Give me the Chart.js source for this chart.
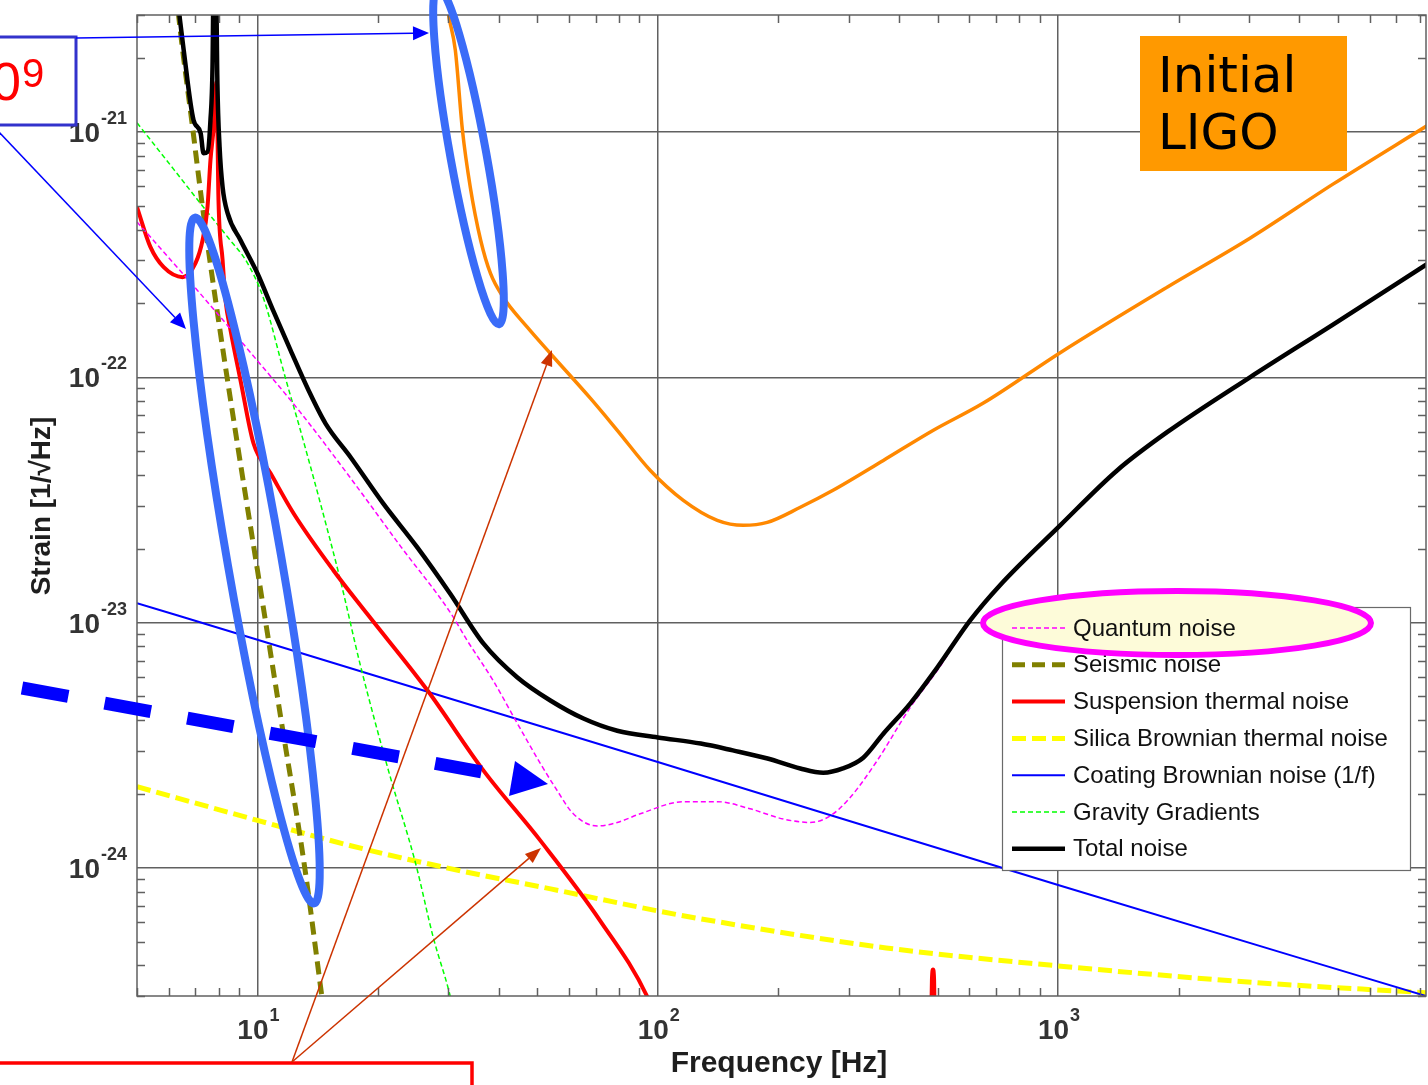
<!DOCTYPE html>
<html>
<head>
<meta charset="utf-8">
<script src="https://cdn.jsdelivr.net/npm/chart.js@4.4.1/dist/chart.umd.min.js"></script>
<style>
  html, body { margin: 0; padding: 0; background: #fff; }
  #c { display: block; }
</style>
</head>
<body>
<canvas id="c" width="1428" height="1085"></canvas>
<script>
// frequency [Hz] / strain [1/sqrt(Hz)]
const quantumF = [5.0, 7.08, 9.61, 12.8, 17.1, 22.8, 30.3, 33.4, 38.8, 44.6, 50.9, 56.1, 61.5, 70.6, 79.2, 90.4, 116, 141, 170, 206, 240, 270, 302, 353, 427, 499, 603, 716, 1012, 1404, 1872, 3015, 4861, 8343]
const quantumH = [4.30e-22, 2.26e-22, 1.26e-22, 7.19e-23, 3.87e-23, 2.04e-23, 1.10e-23, 8.45e-24, 5.79e-24, 3.87e-24, 2.66e-24, 2.06e-24, 1.66e-24, 1.48e-24, 1.53e-24, 1.66e-24, 1.86e-24, 1.86e-24, 1.74e-24, 1.58e-24, 1.53e-24, 1.63e-24, 1.93e-24, 2.73e-24, 4.50e-24, 6.37e-24, 1.02e-23, 1.42e-23, 2.49e-23, 4.17e-23, 5.97e-23, 1.0e-22, 1.64e-22, 2.89e-22]

const seismicF = [6.2, 6.35, 6.88, 7.29, 7.99, 8.92, 10.0, 11.41, 13.10, 14.45, 14.87]
const seismicH = [4.5e-21, 3.0e-21, 1.05e-21, 4.94e-22, 1.71e-22, 5.27e-23, 1.63e-23, 4.17e-24, 1.02e-24, 3.06e-25, 2.16e-25]

const suspF = [5.0, 5.40, 5.83, 6.50, 7.00, 7.29, 7.50, 7.63, 7.77, 7.90, 7.99, 8.18, 8.32, 8.56, 9.07, 9.77, 10.78, 12.30, 15.48, 18.83, 26.6, 36.7, 50.9, 71.8, 94.2, 101, 150, 478, 484, 487, 490, 496]
const suspH = [4.94e-22, 3.40e-22, 2.81e-22, 2.56e-22, 2.92e-22, 3.62e-22, 4.94e-22, 7.69e-22, 1.04e-21, 1.6e-21, 5.27e-22, 3.01e-22, 2.06e-22, 1.56e-22, 9.7e-23, 5.38e-23, 4.06e-23, 2.79e-23, 1.63e-23, 1.08e-23, 5.28e-24, 2.49e-24, 1.29e-24, 6.08e-25, 2.97e-25, 2.2e-25, null, 1e-25, 3.5e-25, 3.85e-25, 3.5e-25, 1e-25]

const silicaF = [5, 10, 17.1, 29.6, 54, 100, 128, 372, 1000, 3140, 8390]
const silicaH = [2.14e-24, 1.56e-24, 1.23e-24, 1.0e-24, 8.2e-25, 6.67e-25, 6.19e-25, 4.71e-25, 3.98e-25, 3.40e-25, 3.09e-25]

const coatingF = [5, 10, 100, 1000, 8300]
const coatingH = [1.2e-23, 8.5e-24, 2.7e-24, 8.5e-25, 3.0e-25]

const gravityF = [5.0, 6.17, 7.29, 8.42, 9.44, 10.35, 11.75, 12.8, 14.4, 16.12, 18.08, 21.24, 24.8, 27.5, 30.2, 31.2]
const gravityH = [1.09e-21, 7.06e-22, 4.99e-22, 3.73e-22, 2.92e-22, 2.10e-22, 9.9e-23, 6.08e-23, 3.01e-23, 1.48e-23, 6.67e-24, 2.49e-24, 1.05e-24, 5.18e-25, 3.06e-25, 2.4e-25]

const totalF = [6.35, 6.54, 6.92, 7.21, 7.33, 7.50, 7.63, 7.72, 7.82, 7.94, 8.04, 8.18, 8.42, 9.07, 10.0, 10.96, 12.09, 13.41, 14.78, 17.1, 20.6, 25.1, 30.3, 36.7, 44.6, 53.9, 65.2, 79.2, 100, 128, 154, 188, 227, 259, 290, 326, 366, 427, 499, 603, 716, 1012, 1404, 1872, 3015, 4861, 8343]
const totalH = [3.2e-21, 2.16e-21, 1.12e-21, 9.9e-22, 8.2e-22, 8.3e-22, 1.12e-21, 1.84e-21, 1.2e-20, 1.58e-21, 8.7e-22, 5.97e-22, 4.67e-22, 3.62e-22, 2.65e-22, 1.86e-22, 1.29e-22, 8.85e-23, 6.49e-23, 4.71e-23, 3.06e-23, 2.02e-23, 1.31e-23, 8.2e-24, 5.97e-24, 4.81e-24, 4.06e-24, 3.62e-24, 3.40e-24, 3.21e-24, 3.01e-24, 2.79e-24, 2.54e-24, 2.44e-24, 2.54e-24, 2.81e-24, 3.52e-24, 4.67e-24, 6.55e-24, 1.02e-23, 1.42e-23, 2.49e-23, 4.17e-23, 5.97e-23, 1.0e-22, 1.64e-22, 2.89e-22]

// initial LIGO sensitivity (orange)
const ligoF = [29.5, 30.0, 31.2, 32.5, 34.0, 36.1, 38.2, 41.1, 47.2, 53.9, 67.9, 79.2, 95.8, 115.8, 140.8, 163.5, 187.7, 227, 274, 366, 488, 649, 1012, 1872, 3015, 4861, 8343]
const ligoH = [3.6e-21, 3.0e-21, 2.16e-21, 1.02e-21, 5.97e-22, 3.62e-22, 2.65e-22, 2.12e-22, 1.60e-22, 1.25e-22, 8.2e-23, 6.08e-23, 4.17e-23, 3.15e-23, 2.61e-23, 2.49e-23, 2.56e-23, 2.95e-23, 3.46e-23, 4.58e-23, 6.08e-23, 7.83e-23, 1.26e-22, 2.33e-22, 3.69e-22, 6.13e-22, 1.06e-21]

const xTickExps = [1, 2, 3]
const yTickExps = [-24, -23, -22, -21]
const legendLabels = ['Quantum noise', 'Seismic noise', 'Suspension thermal noise', 'Silica Brownian thermal noise', 'Coating Brownian noise (1/f)', 'Gravity Gradients', 'Total noise']

const pts = (F, H) => F.map((f, i) => ({ x: f, y: H[i] }))
const line = (label, F, H, color, width, dash, order) => ({
    label: label, data: pts(F, H), borderColor: color, borderWidth: width,
    borderDash: dash, order: order, pointRadius: 0, cubicInterpolationMode: 'monotone',
    fill: false, spanGaps: false
})

const datasets = [
    line('Total noise', totalF, totalH, '#000000', 4.5, [], 0),
    line('Initial LIGO', ligoF, ligoH, '#ff8800', 3.5, [], 1),
    line('Quantum noise', quantumF, quantumH, '#ff00ff', 1.5, [5, 3], 2),
    line('Suspension thermal noise', suspF, suspH, '#ff0000', 4, [], 3),
    line('Seismic noise', seismicF, seismicH, '#808000', 5, [13, 7], 4),
    line('Gravity Gradients', gravityF, gravityH, '#00ff00', 1.5, [5, 3], 5),
    line('Coating Brownian noise (1/f)', coatingF, coatingH, '#0000ff', 2, [], 6),
    line('Silica Brownian thermal noise', silicaF, silicaH, '#ffff00', 5, [14, 6], 7)
]

const GRID = '#606060'
const FONT = '"Liberation Sans", Arial, sans-serif'

function arrow(ctx, x1, y1, x2, y2, color, w, hl, hw) {
    const a = Math.atan2(y2 - y1, x2 - x1)
    ctx.strokeStyle = color
    ctx.fillStyle = color
    ctx.lineWidth = w
    ctx.setLineDash([])
    ctx.beginPath()
    ctx.moveTo(x1, y1)
    ctx.lineTo(x2 - hl * Math.cos(a), y2 - hl * Math.sin(a))
    ctx.stroke()
    ctx.beginPath()
    ctx.moveTo(x2, y2)
    ctx.lineTo(x2 - hl * Math.cos(a) + hw * Math.sin(a), y2 - hl * Math.sin(a) - hw * Math.cos(a))
    ctx.lineTo(x2 - hl * Math.cos(a) - hw * Math.sin(a), y2 - hl * Math.sin(a) + hw * Math.cos(a))
    ctx.closePath()
    ctx.fill()
}

const decor = {
    id: 'decor',
    beforeDraw(chart) {
        const ctx = chart.ctx
        ctx.save()
        ctx.fillStyle = '#fff'
        ctx.fillRect(0, 0, chart.width, chart.height)
        ctx.restore()
    },
    afterDatasetsDraw(chart) {
        const ctx = chart.ctx
        const a = chart.chartArea
        const xs = chart.scales.x, ys = chart.scales.y
        ctx.save()
        ctx.strokeStyle = GRID
        ctx.lineWidth = 1.5
        ctx.setLineDash([])
        // minor ticks inward on all four sides
        for (let e = 0; e <= 3; e++) {
            for (let m = 2; m <= 9; m++) {
                const v = m * Math.pow(10, e)
                if (v < xs.min || v > xs.max) continue
                const px = Math.round(xs.getPixelForValue(v)) + 0.5
                ctx.beginPath()
                ctx.moveTo(px, a.bottom); ctx.lineTo(px, a.bottom - 8)
                ctx.moveTo(px, a.top); ctx.lineTo(px, a.top + 8)
                ctx.stroke()
            }
        }
        for (let e = -25; e <= -21; e++) {
            for (let m = 2; m <= 9; m++) {
                const v = m * Math.pow(10, e)
                if (v < ys.min || v > ys.max) continue
                const py = Math.round(ys.getPixelForValue(v)) + 0.5
                ctx.beginPath()
                ctx.moveTo(a.left, py); ctx.lineTo(a.left + 8, py)
                ctx.moveTo(a.right, py); ctx.lineTo(a.right - 8, py)
                ctx.stroke()
            }
        }
        ctx.strokeRect(a.left, a.top, a.right - a.left, a.bottom - a.top)
        ctx.restore()
    },
    afterDraw(chart) {
        const ctx = chart.ctx
        const xs = chart.scales.x, ys = chart.scales.y
        ctx.save()
        ctx.fillStyle = '#333'
        ctx.textBaseline = 'alphabetic'
        // tick labels 10^n
        xTickExps.forEach(e => {
            const px = xs.getPixelForValue(Math.pow(10, e))
            ctx.font = 'bold 28px ' + FONT
            ctx.textAlign = 'right'
            ctx.fillText('10', px + 11, 1039)
            ctx.font = 'bold 18px ' + FONT
            ctx.textAlign = 'left'
            ctx.fillText(String(e), px + 12, 1021)
        })
        yTickExps.forEach(e => {
            const py = ys.getPixelForValue(Math.pow(10, e))
            ctx.font = 'bold 28px ' + FONT
            ctx.textAlign = 'right'
            ctx.fillText('10', 100, py + 10)
            ctx.font = 'bold 18px ' + FONT
            ctx.textAlign = 'left'
            ctx.fillText(String(e), 101, py - 8)
        })
        // axis titles
        ctx.fillStyle = '#1e1e1e'
        ctx.font = 'bold 30px ' + FONT
        ctx.textAlign = 'center'
        ctx.fillText('Frequency [Hz]', 779, 1072)
        ctx.save()
        ctx.translate(50, 506)
        ctx.rotate(-Math.PI / 2)
        ctx.font = 'bold 28px ' + FONT
        ctx.fillText('Strain [1/\u221AHz]', 0, 0)
        ctx.restore()

        // legend box
        ctx.fillStyle = '#fff'
        ctx.fillRect(1002, 607, 408, 263)
        ctx.strokeStyle = '#6a6a6a'
        ctx.lineWidth = 1.2
        ctx.strokeRect(1002.5, 607.5, 408, 263)
        // highlight behind first entry
        ctx.fillStyle = '#fdfbd9'
        ctx.beginPath()
        ctx.ellipse(1177, 623, 194, 32, 0, 0, Math.PI * 2)
        ctx.fill()
        legendLabels.forEach((lab, i) => {
            const ds = chart.data.datasets.find(d => d.label === lab)
            const y = 628 + i * 36.8
            ctx.strokeStyle = ds.borderColor
            ctx.lineWidth = Math.max(ds.borderWidth, 1.5)
            ctx.setLineDash(ds.borderDash)
            ctx.beginPath()
            ctx.moveTo(1012, y); ctx.lineTo(1065, y)
            ctx.stroke()
            ctx.setLineDash([])
            ctx.fillStyle = '#111'
            ctx.font = '24px ' + FONT
            ctx.textAlign = 'left'
            ctx.textBaseline = 'middle'
            ctx.fillText(lab, 1073, y + 1)
        })
        ctx.strokeStyle = '#ff00ff'
        ctx.lineWidth = 6
        ctx.beginPath()
        ctx.ellipse(1177, 623, 194, 32, 0, 0, Math.PI * 2)
        ctx.stroke()
        ctx.textBaseline = 'alphabetic'

        // "Initial LIGO" label
        ctx.fillStyle = '#ff9900'
        ctx.fillRect(1140, 36, 207, 135)
        ctx.fillStyle = '#000'
        ctx.font = '50px "DejaVu Sans", sans-serif'
        ctx.textAlign = 'left'
        ctx.fillText('Initial', 1158, 92)
        ctx.fillText('LIGO', 1158, 149)

        // blue ellipses
        ctx.strokeStyle = '#3a6cf8'
        ctx.lineWidth = 8
        ctx.beginPath()
        ctx.ellipse(254.5, 560.5, 348, 27, Math.atan2(685, 119), 0, Math.PI * 2)
        ctx.stroke()
        ctx.beginPath()
        ctx.ellipse(468.5, 156, 171, 18, Math.atan2(336, 61), 0, Math.PI * 2)
        ctx.stroke()

        // top-left box with cut-off text
        ctx.strokeStyle = '#3333cc'
        ctx.lineWidth = 3
        ctx.strokeRect(-10, 37, 86, 88)
        ctx.fillStyle = '#ff0000'
        ctx.font = '53px ' + FONT
        ctx.textAlign = 'right'
        ctx.fillText('10', 21, 100)
        ctx.font = '40px ' + FONT
        ctx.textAlign = 'left'
        ctx.fillText('9', 22, 87)
        arrow(ctx, 76, 38, 429, 33, '#0000ff', 1.5, 16, 7)
        arrow(ctx, -3, 130, 186, 329, '#0000ff', 1.5, 16, 7)

        // thick dashed blue arrow
        ctx.strokeStyle = '#0000ff'
        ctx.lineWidth = 13
        ctx.lineCap = 'butt'
        ctx.setLineDash([47, 37])
        ctx.beginPath()
        ctx.moveTo(22, 688)
        ctx.lineTo(482, 772)
        ctx.stroke()
        ctx.setLineDash([])
        ctx.fillStyle = '#0000ff'
        ctx.beginPath()
        ctx.moveTo(515, 761); ctx.lineTo(509, 796); ctx.lineTo(548, 784)
        ctx.closePath()
        ctx.fill()

        // bottom red box and brown pointer arrows
        ctx.strokeStyle = '#ff0000'
        ctx.lineWidth = 3.5
        ctx.strokeRect(-10, 1063, 482, 60)
        arrow(ctx, 292, 1062, 552, 350, '#cc3300', 1.5, 16, 6)
        arrow(ctx, 292, 1062, 541, 848, '#cc3300', 1.5, 16, 6)
        ctx.restore()
    }
}

new Chart(document.getElementById('c'), {
    type: 'line',
    data: { datasets: datasets },
    options: {
        responsive: false,
        devicePixelRatio: 1,
        animation: false,
        layout: { padding: { left: 0, right: 2, top: 15, bottom: 0 } },
        plugins: { legend: { display: false }, tooltip: { enabled: false } },
        scales: {
            x: {
                type: 'logarithmic', min: 5, max: 8300,
                afterBuildTicks: s => { s.ticks = xTickExps.map(e => ({ value: Math.pow(10, e) })) },
                afterFit: s => { s.height = 89 },
                ticks: { display: false },
                grid: { color: GRID, lineWidth: 1.5, drawTicks: false },
                border: { display: false }
            },
            y: {
                type: 'logarithmic', min: 3e-25, max: 3e-21,
                afterBuildTicks: s => { s.ticks = yTickExps.map(e => ({ value: Math.pow(10, e) })) },
                afterFit: s => { s.width = 137 },
                ticks: { display: false },
                grid: { color: GRID, lineWidth: 1.5, drawTicks: false },
                border: { display: false }
            }
        }
    },
    plugins: [decor]
})
</script>
</body>
</html>
